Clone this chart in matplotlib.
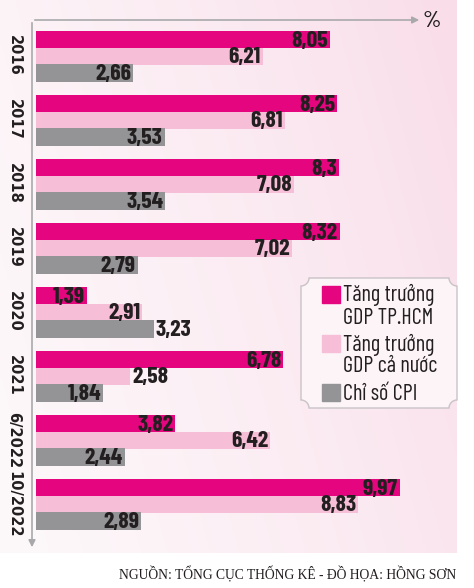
#coding: UTF-8

import numpy as np
import matplotlib.pyplot as plt
from matplotlib.patches import Rectangle, PathPatch
from matplotlib.path import Path
from matplotlib.transforms import blended_transform_factory

# data
periods = ["2016", "2017", "2018", "2019", "2020", "2021", "6/2022", "10/2022"]
gdp_hcm = [8.05, 8.25, 8.3, 8.32, 1.39, 6.78, 3.82, 9.97]
gdp_vn = [6.21, 6.81, 7.08, 7.02, 2.91, 2.58, 6.42, 8.83]
cpi = [2.66, 3.53, 3.54, 2.79, 3.23, 1.84, 2.44, 2.89]
series_names = ["Tăng trưởng\nGDP TP.HCM", "Tăng trưởng\nGDP cả nước", "Chỉ số CPI"]
# labels drawn to the right of the bar instead of inside
outside = {("gdp_vn", "2021"), ("cpi", "2020")}
source = "NGUỒN: TỔNG CỤC THỐNG KÊ - ĐỒ HỌA: HỒNG SƠN"

colors = ["#e5067f", "#f7bfd7", "#949496"]
lab_font = ["Barlow Condensed", "DejaVu Sans"]
leg_font = ["Barlow Condensed", "DejaVu Sans"]

W, H = 474, 588
fig = plt.figure(figsize=(W / 100, H / 100), dpi=100)

# background layer in pixel coords
bg = fig.add_axes([0, 0, 1, 1])
bg.axis("off")
gx = np.linspace(0, 1, 200)
gy = np.linspace(0, 1, 200)
X, Y = np.meshgrid(gx, gy)
t = np.clip(0.75 * X + 0.25 * (1 - Y), 0, 1) ** 1.3
c0 = np.array([253, 248, 250]) / 255
c1 = np.array([249, 221, 233]) / 255
img = c0[None, None, :] * (1 - t[..., None]) + c1[None, None, :] * t[..., None]
bg.imshow(img, extent=(0, 457, 553, 0), aspect="auto", zorder=0)
bg.set_xlim(0, W)
bg.set_ylim(H, 0)

# axis lines with arrows
axc = "#a9a9ab"
bg.annotate("", xy=(422, 20), xytext=(32, 20),
            arrowprops=dict(arrowstyle="-|>", color=axc, lw=1.2, mutation_scale=10))
bg.annotate("", xy=(32, 550), xytext=(32, 20),
            arrowprops=dict(arrowstyle="-|>", color=axc, lw=1.2, mutation_scale=10))
bg.text(432, 21, "%", fontsize=17, family=leg_font, fontweight=500,
        ha="center", va="center", color="#231f20")

# main chart
ax = fig.add_axes([36 / W, 36 / H, 421 / W, 532 / H])
ax.patch.set_alpha(0)
ax.set_xlim(0, 421 / 36.5)
ax.set_ylim(532 / 64, 0)
ax.axis("off")

bh = 0.27
idx = np.arange(len(periods))
offs = [0.305, 0.565, 0.83]
keys = ["gdp_hcm", "gdp_vn", "cpi"]
for vals, off, col, key in zip([gdp_hcm, gdp_vn, cpi], offs, colors, keys):
    ax.barh(idx + off, vals, height=bh, color=col, zorder=2 if key != "gdp_vn" else 1)
    for i, v in enumerate(vals):
        lab = f"{v:g}".replace(".", ",")
        if (key, periods[i]) in outside:
            xo, ha = 2, "left"
        else:
            xo, ha = -2, "right"
        ax.annotate(lab, xy=(v, idx[i] + off + bh / 2), xytext=(xo, 1.5),
                    textcoords="offset pixels", ha=ha, va="baseline",
                    fontsize=17, fontweight="bold", family=lab_font,
                    color="#231f20", zorder=3)

tr = blended_transform_factory(fig.transFigure, ax.transData)
for i, p in enumerate(periods):
    ax.text(14 / W, i + 0.56, p, transform=tr, rotation=270, ha="center", va="center",
            fontsize=10.5, fontweight="bold", color="#231f20")

# legend box with concave corners
x0, x1, y0, y1, r = 301, 457, 278, 408, 8
k = 0.55 * r
verts = [(x0 + r, y0), (x1 - r, y0),
         (x1 - r, y0 + k), (x1 - k, y0 + r), (x1, y0 + r),
         (x1, y1 - r),
         (x1 - k, y1 - r), (x1 - r, y1 - k), (x1 - r, y1),
         (x0 + r, y1),
         (x0 + r, y1 - k), (x0 + k, y1 - r), (x0, y1 - r),
         (x0, y0 + r),
         (x0 + k, y0 + r), (x0 + r, y0 + k), (x0 + r, y0),
         (x0 + r, y0)]
codes = [Path.MOVETO, Path.LINETO,
         Path.CURVE4, Path.CURVE4, Path.CURVE4,
         Path.LINETO,
         Path.CURVE4, Path.CURVE4, Path.CURVE4,
         Path.LINETO,
         Path.CURVE4, Path.CURVE4, Path.CURVE4,
         Path.LINETO,
         Path.CURVE4, Path.CURVE4, Path.CURVE4,
         Path.CLOSEPOLY]
bg.add_patch(PathPatch(Path(verts, codes), facecolor="#fdf4f8", edgecolor="#c9c3c6",
                       lw=1, zorder=4))
ly = [286, 335, 384]
for name, col, y in zip(series_names, colors, ly):
    bg.add_patch(Rectangle((322, y), 18, 17, color=col, zorder=5))
    for j, line in enumerate(name.split("\n")):
        bg.text(343, y + 15.5 + 22 * j, line, ha="left", va="baseline", fontsize=16,
                family=leg_font, color="#231f20", zorder=5)

bg.text(456, 574, source, ha="right", va="center", fontsize=9.8,
        family=["Liberation Serif", "DejaVu Serif"], color="#231f20")

fig.savefig("out.png", dpi=100)
